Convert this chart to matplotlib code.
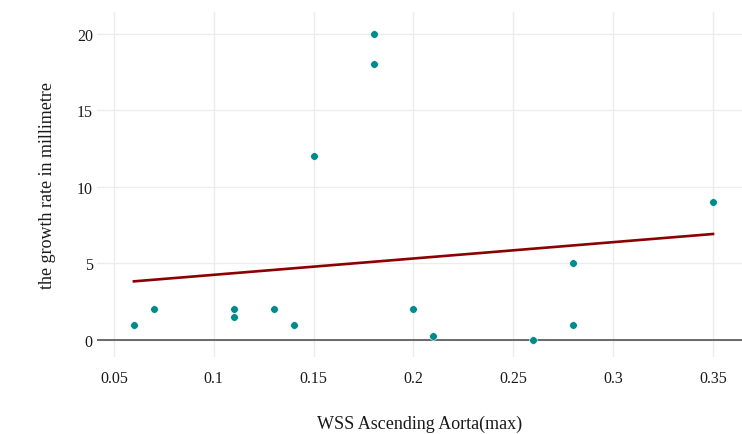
import numpy as np
import matplotlib.pyplot as plt

# WSS (max) at the ascending aorta vs. growth rate
wss_max = [0.06, 0.07, 0.11, 0.11, 0.13, 0.14, 0.15, 0.18, 0.18, 0.20, 0.21, 0.26, 0.28, 0.28, 0.35]
growth_mm = [1, 2, 2, 1.5, 2, 1, 12, 20, 18, 2, 0.3, 0, 5, 1, 9]

x_ticks = [0.05, 0.1, 0.15, 0.2, 0.25, 0.3, 0.35]
x_tick_labels = ["0.05", "0.1", "0.15", "0.2", "0.25", "0.3", "0.35"]
y_ticks = [0, 5, 10, 15, 20]

plt.rcParams['font.family'] = ['Liberation Serif', 'DejaVu Serif']

fig = plt.figure(figsize=(7.42, 4.35), dpi=100)
ax = fig.add_axes([0.1307, 0.177, 0.8693, 0.793])

x = np.array(wss_max)
y = np.array(growth_mm)
slope, intercept = np.polyfit(x, y, 1)
xl = np.array([x.min(), x.max()])

ax.axhline(0, color="#444444", lw=1.1, zorder=1)
ax.plot(xl, intercept + slope * xl, color="#8b0000", lw=1.9, zorder=2)
ax.scatter(x, y, s=30, color="#008b8b", edgecolors="white", linewidths=0.4, zorder=3)

ax.set_xlim(0.0415, 0.3645)
ax.set_ylim(-1.1, 21.4)
ax.set_xticks(x_ticks)
ax.set_xticklabels(x_tick_labels)
ax.set_yticks(y_ticks)

ax.grid(True, color="#ececec", lw=1)
ax.set_axisbelow(True)
for s in ax.spines.values():
    s.set_visible(False)
ax.tick_params(length=0, labelsize=11.5, colors="#1a1a1a")
ax.tick_params(axis="x", pad=9)
ax.tick_params(axis="y", pad=3)

ax.set_xlabel("WSS Ascending Aorta(max)", fontsize=13, color="#1a1a1a", labelpad=21)
ax.set_ylabel("the growth rate in millimetre", fontsize=13, color="#1a1a1a", labelpad=15)

fig.savefig("out.png", dpi=100, facecolor="white")
